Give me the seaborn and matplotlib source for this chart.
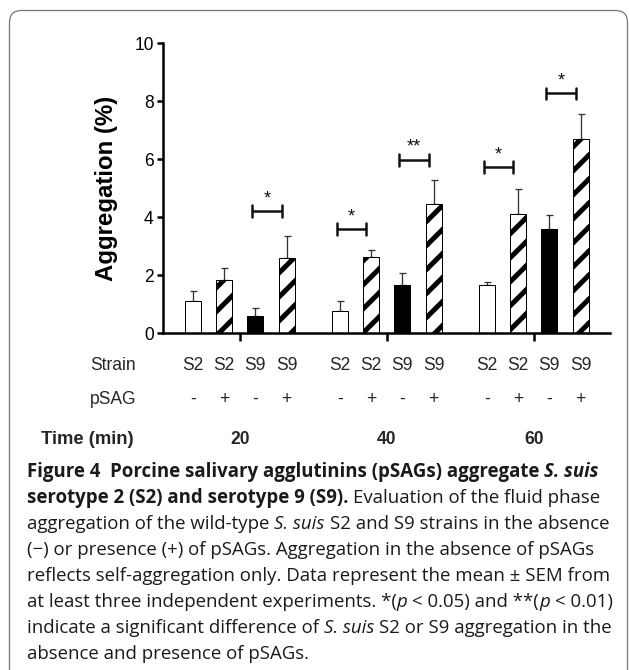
import numpy as np
import pandas as pd
import matplotlib
matplotlib.use("Agg")
import matplotlib.pyplot as plt
import seaborn as sns
from matplotlib.patches import FancyBboxPatch
from matplotlib.transforms import IdentityTransform, blended_transform_factory
from matplotlib.font_manager import FontProperties

# ---------------- data ----------------
times = ["20", "40", "60"]
conditions = ["S2 -", "S2 +", "S9 -", "S9 +"]
strain_labels = ["S2", "S2", "S9", "S9"]
psag_labels = ["-", "+", "-", "+"]

mean_20 = [1.12, 1.84, 0.60, 2.58]
mean_40 = [0.76, 2.62, 1.66, 4.45]
mean_60 = [1.65, 4.10, 3.58, 6.68]
sem_20 = [0.33, 0.40, 0.25, 0.78]
sem_40 = [0.34, 0.24, 0.40, 0.83]
sem_60 = [0.11, 0.88, 0.50, 0.88]

# significance brackets: (time index, left condition, right condition, height, label)
sig_time = [0, 1, 1, 2, 2]
sig_left = [2, 0, 2, 0, 2]
sig_right = [3, 1, 3, 1, 3]
sig_height = [4.20, 3.58, 5.97, 5.72, 8.26]
sig_label = ["*", "*", "**", "*", "*"]

yticks = [0, 2, 4, 6, 8, 10]

# ---------------- style ----------------
W, H, DPI = 629, 670, 72
sns.set_style("ticks")
plt.rcParams["font.family"] = ["Liberation Sans", "DejaVu Sans"]
plt.rcParams["hatch.linewidth"] = 5.0
plt.rcParams["axes.linewidth"] = 2.5

fig = plt.figure(figsize=(W / DPI, H / DPI), dpi=DPI)
fig.patch.set_facecolor("white")

# rounded frame
frame = FancyBboxPatch((9.5, -40), 618, H - 10.5 + 40,
                       boxstyle="round,pad=0,rounding_size=12",
                       transform=IdentityTransform(), facecolor="none",
                       edgecolor="#7a7a7a", linewidth=1.3, zorder=-1)
fig.patches.append(frame)

ax_l, ax_r, ax_t, ax_b = 162.6, 610.0, 43.0, 333.0
ax = fig.add_axes([ax_l / W, 1 - ax_b / H, (ax_r - ax_l) / W, (ax_b - ax_t) / H])
ax.set_facecolor("none")

rows = []
for t, means, sems in zip(times, [mean_20, mean_40, mean_60], [sem_20, sem_40, sem_60]):
    for c, m, s in zip(conditions, means, sems):
        rows.append({"time": t, "cond": c, "value": m, "sem": s})
df = pd.DataFrame(rows)

palette = {"S2 -": "white", "S2 +": "white", "S9 -": "black", "S9 +": "white"}
sns.barplot(data=df, x="time", y="value", hue="cond", order=times,
            hue_order=conditions, palette=palette, width=0.85, gap=0.49,
            errorbar=None, edgecolor="black", linewidth=1.0, saturation=1,
            legend=False, ax=ax, zorder=2)

# bar geometry from seaborn's containers
centers = np.zeros((len(times), len(conditions)))
for ci, cont in enumerate(ax.containers[:len(conditions)]):
    patches = sorted(cont.patches, key=lambda p: p.get_x())
    for ti, p in enumerate(patches):
        centers[ti, ci] = p.get_x() + p.get_width() / 2
        if conditions[ci].endswith("+"):
            p.set_hatch("/")
            p.set_edgecolor("black")

# error bars (upper only)
xs = centers.ravel()
ys = df["value"].to_numpy()
es = df["sem"].to_numpy()
ax.errorbar(xs, ys, yerr=[np.zeros_like(es), es], fmt="none", ecolor="#333333",
            elinewidth=1.3, capsize=3.5, capthick=1.3, zorder=1)

# significance brackets
tick_h = 0.2
for ti, li, ri, h, lab in zip(sig_time, sig_left, sig_right, sig_height, sig_label):
    x1 = centers[ti, li] - 0.02
    x2 = centers[ti, ri] - 0.035
    ax.plot([x1, x2], [h, h], color="#111111", lw=2.5, solid_capstyle="butt", zorder=3)
    ax.plot([x1, x1], [h - tick_h, h + tick_h], color="#111111", lw=2.5, zorder=3)
    ax.plot([x2, x2], [h - tick_h, h + tick_h], color="#111111", lw=2.5, zorder=3)
    ax.annotate(lab, xy=((x1 + x2) / 2, h), xytext=(0, 8), textcoords="offset points",
                ha="center", va="baseline", fontsize=18, color="#111111")

ax.set_xlim((ax_l - 239.8) / 147.0, (ax_r - 239.8) / 147.0)
ax.set_ylim(0, 10)
ax.set_yticks(yticks)
ax.set_yticklabels([str(v) for v in yticks])
ax.set_xticks(range(len(times)))
ax.set_xticklabels([])
ax.tick_params(axis="y", length=6, width=2.5, pad=3, labelsize=17.5, colors="black")
ax.tick_params(axis="x", length=8, width=2.5, direction="out", colors="black")
sns.despine(ax=ax, top=True, right=True)
ax.spines["left"].set_color("black")
ax.spines["bottom"].set_color("black")
ax.set_xlabel("")
ax.set_ylabel("Aggregation (%)", fontsize=24, fontweight="bold", color="black")
ax.yaxis.set_label_coords((118 - ax_l) / (ax_r - ax_l), 0.5)

# table rows under the axis
trans = blended_transform_factory(ax.transData, fig.transFigure)
row_size = 17.5
def fy(px):
    return 1 - px / H

fig.text(136 / W, fy(369.5), "Strain", ha="right", va="baseline", fontsize=row_size)
fig.text(136 / W, fy(403.5), "pSAG", ha="right", va="baseline", fontsize=row_size)
fig.text(134 / W, fy(443.5), "Time (min)", ha="right", va="baseline", fontsize=18.5,
         fontweight="bold")
for ti in range(len(times)):
    for ci in range(len(conditions)):
        ax.text(centers[ti, ci], fy(369.5), strain_labels[ci], transform=trans,
                ha="center", va="baseline", fontsize=row_size)
        ax.text(centers[ti, ci], fy(403.5), psag_labels[ci], transform=trans,
                ha="center", va="baseline", fontsize=row_size)
    ax.text(ti, fy(443.5), times[ti], transform=trans, ha="center", va="baseline",
            fontsize=17.5, fontweight="bold")

# ---------------- caption ----------------
CAP_FAMILY = ["Open Sans", "DejaVu Sans"]
CAP_X = 27.0
renderer = fig.canvas.get_renderer()

def fp(weight, style, size):
    return FontProperties(family=CAP_FAMILY, weight=weight, style=style, size=size)

def adv(text, weight, style, size):
    prop = fp(weight, style, size)
    w1 = renderer.get_text_width_height_descent("x" + text + "x", prop, ismath=False)[0]
    w0 = renderer.get_text_width_height_descent("xx", prop, ismath=False)[0]
    return w1 - w0

B, R = "bold", "normal"
N, I = "normal", "italic"
caption = [
    [("Figure 4  Porcine salivary agglutinins (pSAGs) aggregate ", B, N), ("S. suis", B, I)],
    [("serotype 2 (S2) and serotype 9 (S9).", B, N), (" Evaluation of the fluid phase", R, N)],
    [("aggregation of the wild-type ", R, N), ("S. suis", R, I), (" S2 and S9 strains in the absence", R, N)],
    [("(\u2212) or presence (+) of pSAGs. Aggregation in the absence of pSAGs", R, N)],
    [("reflects self-aggregation only. Data represent the mean \u00b1 SEM from", R, N)],
    [("at least three independent experiments. *(", R, N), ("p", R, I), (" < 0.05) and **(", R, N),
     ("p", R, I), (" < 0.01)", R, N)],
    [("indicate a significant difference of ", R, N), ("S. suis", R, I), (" S2 or S9 aggregation in the", R, N)],
    [("absence and presence of pSAGs.", R, N)],
]

def line_width(segs, size):
    return sum(adv(t, w, s, size) for t, w, s in segs)

base = 10.0
cap_size = base * (610 - CAP_X) / line_width(caption[2], base)

y0, dy = 477.0, 26.0
for li, segs in enumerate(caption):
    x = CAP_X
    ybase = y0 + li * dy
    for text, w, s in segs:
        stripped = text.lstrip(" ")
        x += adv(" " * (len(text) - len(stripped)), w, s, cap_size) if len(text) != len(stripped) else 0
        core = stripped.rstrip(" ")
        fig.text(x / W, fy(ybase), core, ha="left", va="baseline", fontsize=cap_size,
                 fontweight=w, fontstyle=s, family=CAP_FAMILY, color="#1a1a1a")
        x += adv(core, w, s, cap_size)
        trail = len(stripped) - len(core)
        if trail:
            x += adv(" " * trail, w, s, cap_size)

fig.savefig("out.png", dpi=DPI, facecolor="white")
